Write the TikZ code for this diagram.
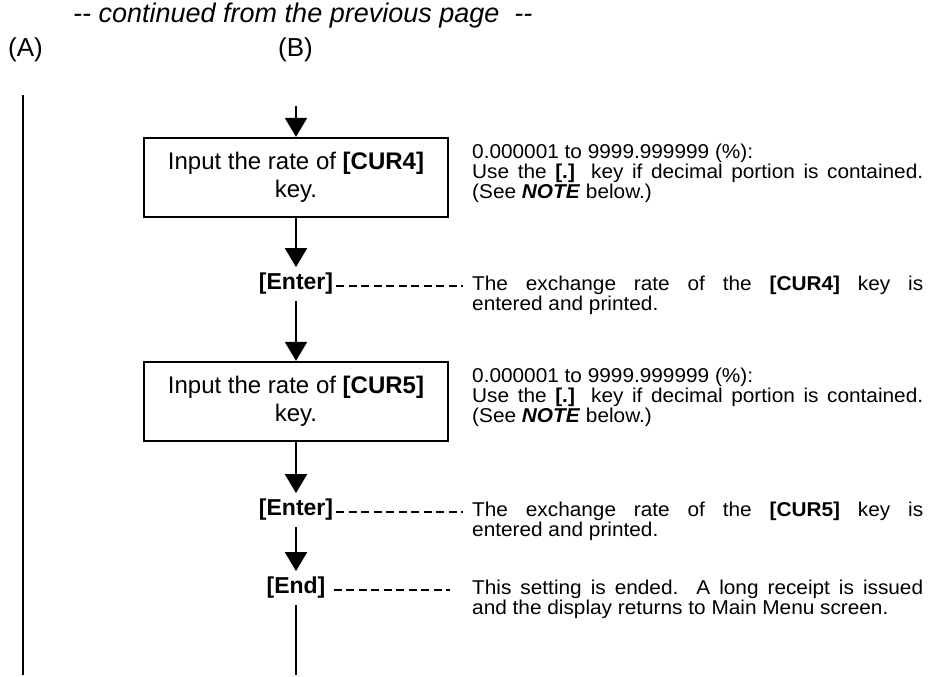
\documentclass[tikz,border=0pt]{standalone}
\usepackage{fontspec}
\setmainfont{Liberation Sans}
\newfontfamily\notefont{Liberation Sans}[FakeStretch=1.04]
\usetikzlibrary{arrows.meta}
\begin{document}
\begin{tikzpicture}[x=1pt,y=-1pt,
  box/.style={draw,line width=2.2pt,minimum width=304pt,minimum height=79pt,inner sep=0pt,align=center,font=\fontsize{24}{28}\selectfont},
  keylbl/.style={inner xsep=3pt,inner ysep=6pt,font=\fontsize{23}{27}\selectfont\bfseries},
  note/.style={anchor=base west,inner sep=0pt,text width=451pt,align=justify,font=\notefont\fontsize{20}{20}\selectfont},
  arr/.style={line width=2pt,-{Triangle[width=22pt,length=19pt]}},
  plain/.style={line width=2pt},
  dsh/.style={line width=1.3pt,dash pattern=on 8pt off 4.5pt},
  hdr/.style={anchor=base west,inner sep=0pt,font=\fontsize{26}{30}\selectfont}]
\useasboundingbox (0,0) rectangle (938,677);
% title
\node[hdr,font=\fontsize{27}{32}\selectfont\itshape] (title) at (73,23) {-{}- continued from the previous page \ -{}-};
\node[hdr] (A) at (8,57) {(A)};
\node[hdr] (B) at (278,57) {(B)};
% left line
\coordinate (Atop) at (23,95);
\coordinate (Abot) at (23,675);
\draw[line width=1.6pt] (Atop) -- (Abot);
% main flow
\coordinate (Bs) at (296,106);
\node[box] (b1) at (296,177.5) {Input the rate of \textbf{[CUR4]}\\key.};
\node[keylbl] (e1) at (296,284) {[Enter]};
\node[box] (b2) at (296,401.5) {Input the rate of \textbf{[CUR5]}\\key.};
\node[keylbl] (e2) at (296,510) {[Enter]};
\node[keylbl] (en) at (296,588) {[End]};
\coordinate (Bend) at (296,675);
\draw[arr] (Bs) -- (b1.north);
\draw[arr] (b1.south) -- (e1.north);
\draw[arr] (e1.south) -- (b2.north);
\draw[arr] (b2.south) -- (e2.north);
\draw[arr] (e2.south) -- (en.north);
\draw[plain] (en.south) -- (Bend);
% dashed leaders
\coordinate (d1) at (463,286);
\coordinate (d2) at (463,512);
\coordinate (d3) at (450,590);
\draw[dsh] (e1.east |- d1) -- (d1);
\draw[dsh] (e2.east |- d2) -- (d2);
\draw[dsh] ([xshift=5pt]en.east |- d3) -- (d3);
% notes
\node[note] (n1) at (472,158) {0.000001 to 9999.999999 (\%):\\Use the \textbf{[.]} key if decimal portion is contained.\linebreak (See \textbf{\textit{NOTE}} below.)};
\node[note] (n2) at (472,290) {The exchange rate of the \textbf{[CUR4]} key is\linebreak entered and printed.};
\node[note] (n3) at (472,382) {0.000001 to 9999.999999 (\%):\\Use the \textbf{[.]} key if decimal portion is contained.\linebreak (See \textbf{\textit{NOTE}} below.)};
\node[note] (n4) at (472,516) {The exchange rate of the \textbf{[CUR5]} key is\linebreak entered and printed.};
\node[note] (n5) at (472,594) {This setting is ended.\ \ A long receipt is issued\linebreak and the display returns to Main Menu screen.};
\end{tikzpicture}
\end{document}
